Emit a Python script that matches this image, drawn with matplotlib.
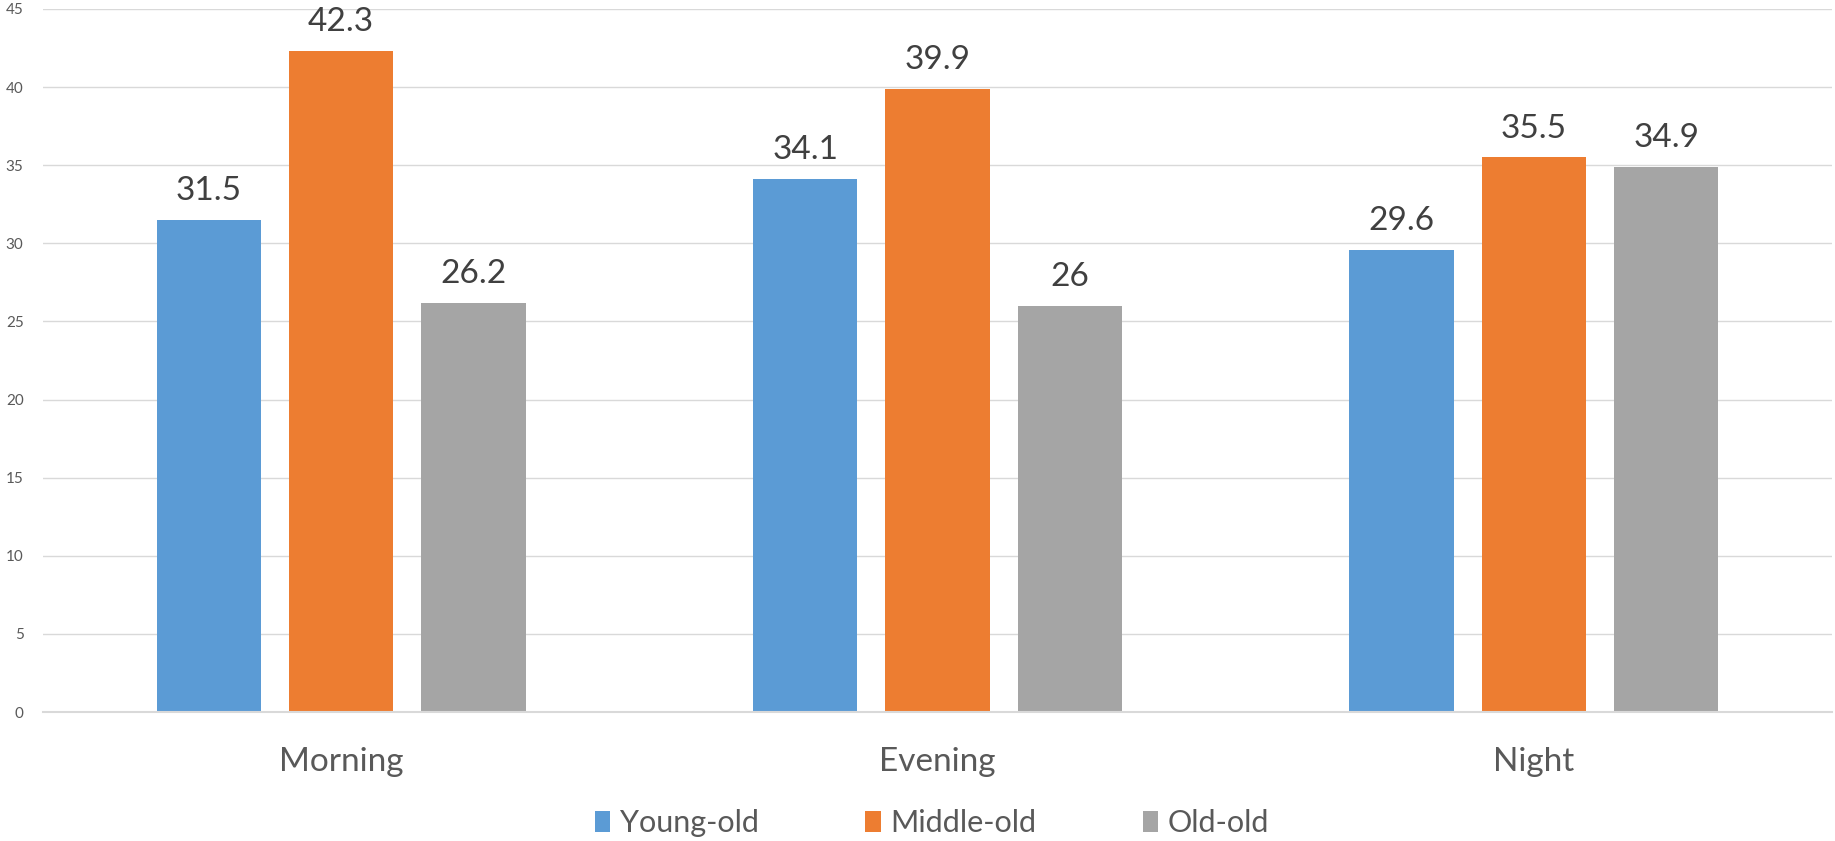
import matplotlib
matplotlib.use("Agg")
import matplotlib.pyplot as plt
from matplotlib.patches import Patch
import numpy as np

categories = ["Morning", "Evening", "Night"]
series_names = ["Young-old", "Middle-old", "Old-old"]
young_old = [31.5, 34.1, 29.6]
middle_old = [42.3, 39.9, 35.5]
old_old = [26.2, 26.0, 34.9]
value_labels = [["31.5", "34.1", "29.6"], ["42.3", "39.9", "35.5"], ["26.2", "26", "34.9"]]
colors = ["#5B9BD5", "#ED7D31", "#A5A5A5"]
yticks = [0, 5, 10, 15, 20, 25, 30, 35, 40, 45]

plt.rcParams['font.family'] = ['Lato', 'DejaVu Sans']
text_color = "#595959"

fig = plt.figure(figsize=(18.35, 8.41), dpi=100)
ax = fig.add_axes([43/1835, 1 - 712/841, (1832 - 43)/1835, (712 - 9)/841])

x = np.arange(len(categories))
bw = 0.175
step = 0.222
all_series = [young_old, middle_old, old_old]
for i, (vals, col) in enumerate(zip(all_series, colors)):
    pos = x + (i - 1) * step
    bars = ax.bar(pos, vals, width=bw, color=col, zorder=3)
    for b, lab in zip(bars, value_labels[i]):
        ax.annotate(lab, (b.get_x() + b.get_width() / 2, b.get_height()),
                    xytext=(0, 10), textcoords="offset points",
                    ha="center", va="bottom", fontsize=24, color="#404040")

ax.set_xlim(-0.5, 2.5)
ax.set_ylim(0, 45)
ax.set_yticks(yticks)
ax.set_yticklabels([str(t) for t in yticks], fontsize=11, color=text_color)
ax.set_xticks(x)
ax.set_xticklabels(categories, fontsize=24, color=text_color)
ax.tick_params(axis="y", length=0, pad=14)
ax.tick_params(axis="x", length=0, pad=25)
ax.grid(axis="y", color="#D9D9D9", linewidth=1, zorder=0)
for s in ["top", "right", "left"]:
    ax.spines[s].set_visible(False)
ax.spines["bottom"].set_color("#D9D9D9")
ax.spines["bottom"].set_linewidth(1.5)
ax.spines["bottom"].set_zorder(4)

handles = [Patch(facecolor=c, edgecolor="none") for c in colors]
fig.legend(handles, series_names, loc="center", bbox_to_anchor=(932/1835, 1 - 823/841),
           ncol=3, frameon=False, fontsize=22, labelcolor=text_color,
           handlelength=0.5, handleheight=0.7, handletextpad=0.3, columnspacing=3.5)

fig.savefig("out.png", dpi=100)
